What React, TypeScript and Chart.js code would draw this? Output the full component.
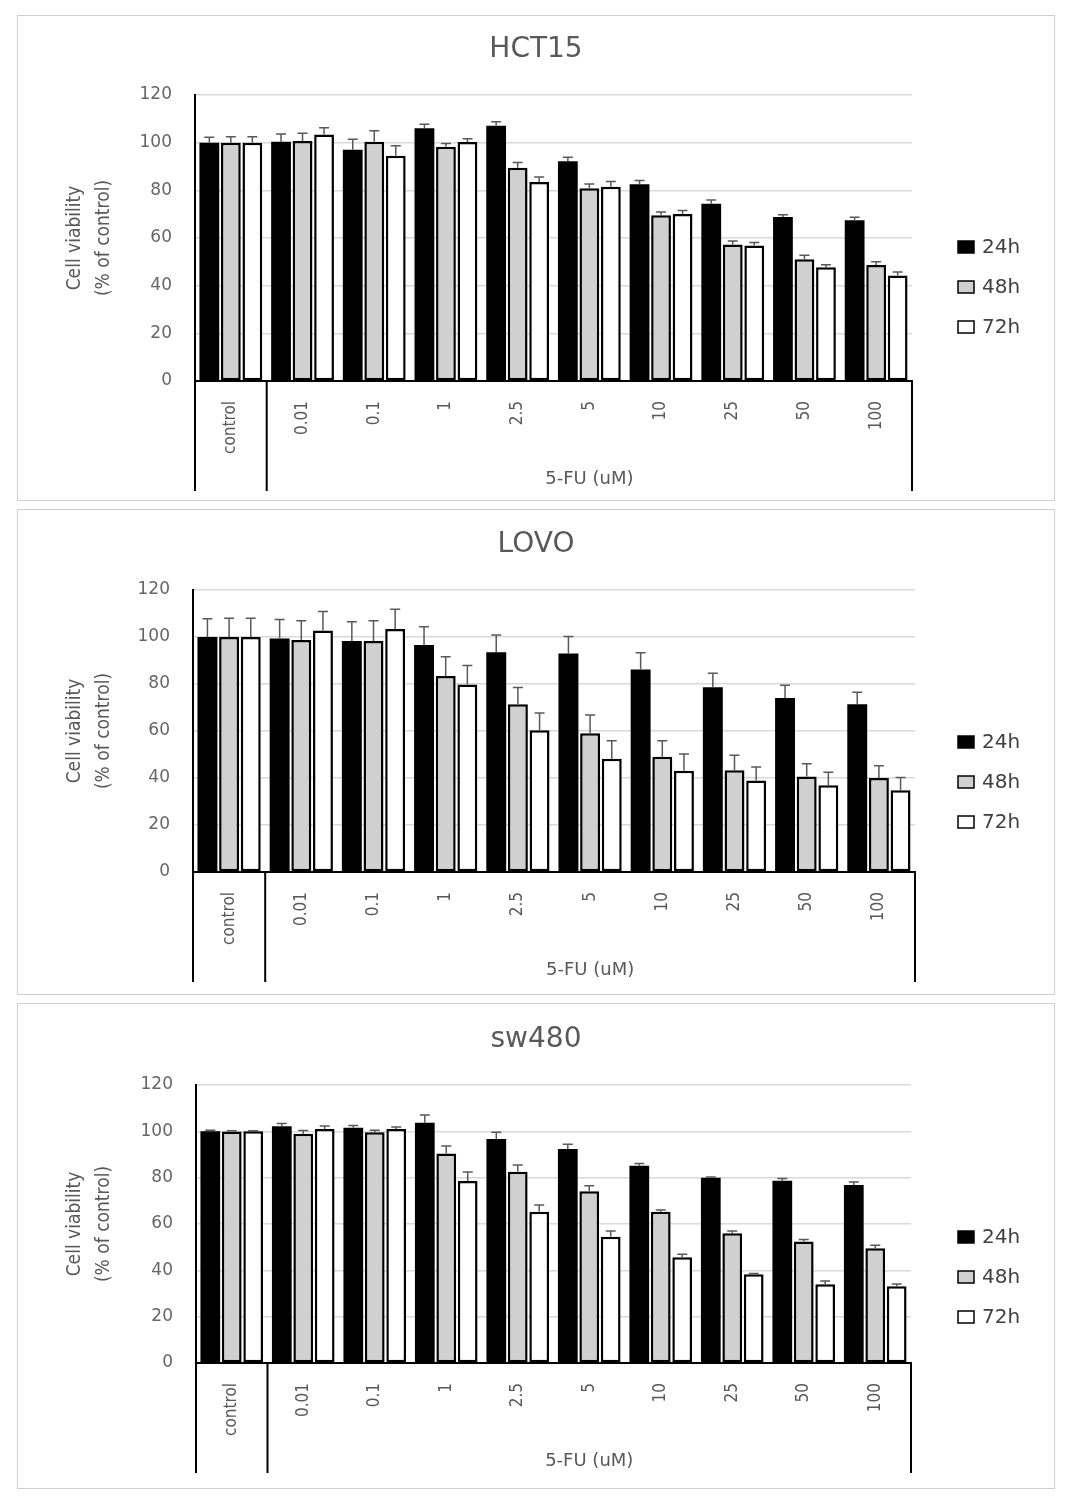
import React, { useEffect, useRef } from "react";
import { Chart, registerables } from "chart.js";

Chart.register(...registerables);

const categories = ["control", "0.01", "0.1", "1", "2.5", "5", "10", "25", "50", "100"];
const seriesLabels = ["24h", "48h", "72h"];

// HCT15
const hct15_24h = [100, 100.4, 97, 106, 107.1, 92.2, 82.6, 74.4, 68.8, 67.4];
const hct15_48h = [100, 100.7, 100.4, 98.3, 89.5, 80.9, 69.5, 57.3, 51.1, 48.7];
const hct15_72h = [100, 103.4, 94.5, 100.3, 83.5, 81.5, 70.1, 56.9, 47.7, 44.3];
const hct15_err24 = [2.3, 3.2, 4.4, 1.7, 1.7, 1.7, 1.5, 1.5, 1.0, 1.3];
const hct15_err48 = [2.5, 3.2, 4.6, 1.4, 2.2, 1.8, 1.4, 1.4, 1.7, 1.3];
const hct15_err72 = [2.5, 2.9, 4.2, 1.3, 2.1, 2.2, 1.4, 1.2, 1.1, 1.4];

// LOVO
const lovo_24h = [100, 99.4, 98.3, 96.6, 93.5, 93, 86.2, 78.6, 74.0, 71.4];
const lovo_48h = [100, 98.7, 98.3, 83.4, 71.4, 59, 49, 43.3, 40.6, 40];
const lovo_72h = [100, 102.8, 103.4, 79.8, 60.3, 48.2, 43.1, 38.9, 36.9, 34.8];
const lovo_err24 = [7.8, 8, 8.2, 7.8, 7.4, 7.2, 7.1, 6, 5.5, 5.1];
const lovo_err48 = [8, 8.2, 8.6, 8.2, 7.1, 7.8, 6.8, 6.4, 5.5, 5.2];
const lovo_err72 = [8, 8, 8.4, 8.1, 7.4, 7.7, 7.1, 5.8, 5.5, 5.4];

// sw480
const sw480_24h = [100, 102.2, 101.5, 103.7, 96.7, 92.4, 85.1, 80, 78.7, 76.8];
const sw480_48h = [99.9, 99, 99.6, 90.4, 82.6, 74.1, 65.3, 56, 52.4, 49.5];
const sw480_72h = [100, 101, 101, 78.6, 65.3, 54.5, 45.6, 38.3, 34, 33.1];
const sw480_err24 = [0.5, 1.2, 1, 3.3, 2.9, 2, 1, 0.3, 0.9, 1.3];
const sw480_err48 = [0.3, 1.4, 0.9, 3.3, 2.9, 2.4, 0.7, 1, 0.9, 1.3];
const sw480_err72 = [0.3, 1.3, 0.9, 3.9, 2.9, 2.5, 1.3, 0.3, 1.4, 1];

const yMin = 0;
const yMax = 120;
const yStep = 20;

const yTitleLines = ["Cell viability", "(% of control)"];
const groupTitle = "5-FU (uM)";

const fills = ["#000000", "#d0d0d0", "#ffffff"];

const CW = 1036;
const CH = 484;

type PanelProps = {
  title: string;
  values: number[][];
  errors: number[][];
  area: { left: number; right: number; top: number; bottom: number };
  top: number;
};

function Panel({ title, values, errors, area, top }: PanelProps) {
  const ref = useRef<HTMLCanvasElement | null>(null);

  useEffect(() => {
    if (!ref.current) return;
    const overlay = {
      id: "overlay",
      afterDatasetsDraw(chart: any) {
        const ctx = chart.ctx;
        const ys = chart.scales.y;
        ctx.save();
        ctx.strokeStyle = "#595959";
        ctx.lineWidth = 1.5;
        chart.data.datasets.forEach((ds: any, di: number) => {
          const meta = chart.getDatasetMeta(di);
          meta.data.forEach((el: any, i: number) => {
            const v = ds.data[i];
            const e = errors[di][i];
            const yTop = ys.getPixelForValue(v + e);
            const yBar = ys.getPixelForValue(v);
            ctx.beginPath();
            ctx.moveTo(el.x, yBar);
            ctx.lineTo(el.x, yTop);
            ctx.moveTo(el.x - 5, yTop);
            ctx.lineTo(el.x + 5, yTop);
            ctx.stroke();
          });
        });
        ctx.restore();
      },
      afterDraw(chart: any) {
        const ctx = chart.ctx;
        const xs = chart.scales.x;
        const ca = chart.chartArea;
        ctx.save();
        // Title
        ctx.fillStyle = "#595959";
        ctx.textAlign = "center";
        ctx.textBaseline = "middle";
        ctx.font = "28px 'DejaVu Sans'";
        ctx.fillText(title, CW / 2, ca.top - 45);

        // Y title
        const midY = (ca.top + ca.bottom) / 2;
        ctx.font = "19px 'DejaVu Sans Condensed', 'Liberation Sans Narrow', 'DejaVu Sans'";
        [57, 86].forEach((xx, i) => {
          ctx.save();
          ctx.translate(xx, midY);
          ctx.rotate(-Math.PI / 2);
          ctx.fillText(yTitleLines[i], 0, 0);
          ctx.restore();
        });

        // Brackets
        const b0 = ca.left;
        const b1 = (xs.getPixelForTick(0) + xs.getPixelForTick(1)) / 2;
        const b2 = ca.right;
        ctx.strokeStyle = "#000";
        ctx.lineWidth = 2;
        ctx.beginPath();
        [b0, b1, b2].forEach((bx) => {
          ctx.moveTo(bx, ca.bottom);
          ctx.lineTo(bx, ca.bottom + 110);
        });
        ctx.stroke();

        // Group label
        ctx.fillStyle = "#595959";
        ctx.font = "18px 'DejaVu Sans'";
        ctx.fillText(groupTitle, (b1 + b2) / 2, ca.bottom + 98);

        // Legend
        seriesLabels.forEach((lab, i) => {
          const ly = ca.top + 152 + 40 * i;
          ctx.fillStyle = fills[i];
          ctx.fillRect(940, ly - 6, 16, 12);
          ctx.strokeStyle = "#000";
          ctx.lineWidth = 1.5;
          ctx.strokeRect(940, ly - 6, 16, 12);
          ctx.fillStyle = "#404040";
          ctx.font = "20px 'DejaVu Sans'";
          ctx.textAlign = "left";
          ctx.fillText(lab, 964, ly + 1);
        });
        ctx.restore();
      },
    };

    const chart = new Chart(ref.current, {
      type: "bar",
      data: {
        labels: categories,
        datasets: values.map((vals, i) => ({
          label: seriesLabels[i],
          data: vals,
          backgroundColor: fills[i],
          borderColor: "#000",
          borderWidth: i === 0 ? 0 : 2.5,
          borderSkipped: false,
          categoryPercentage: 0.9,
          barPercentage: 0.92,
        })),
      },
      options: {
        animation: false,
        responsive: false,
        devicePixelRatio: 1,
        layout: {
          padding: { left: 0, top: area.top, right: CW - area.right, bottom: 0 },
        },
        plugins: {
          legend: { display: false },
          title: { display: false },
          tooltip: { enabled: false },
        },
        scales: {
          x: {
            grid: { display: false },
            border: { color: "#000", width: 2 },
            ticks: {
              autoSkip: false,
              maxRotation: 90,
              minRotation: 90,
              padding: 12,
              color: "#595959",
              font: { family: "'DejaVu Sans Condensed', 'Liberation Sans Narrow', 'DejaVu Sans'", size: 17 },
            },
            afterFit: (s: any) => {
              s.height = CH - area.bottom;
            },
          },
          y: {
            min: yMin,
            max: yMax,
            ticks: {
              stepSize: yStep,
              padding: 23,
              color: "#666",
              font: { family: "'DejaVu Sans'", size: 17 },
            },
            grid: { color: "#d9d9d9", lineWidth: 1.5, drawTicks: false },
            border: { color: "#000", width: 2 },
            afterFit: (s: any) => {
              s.width = area.left;
            },
          },
        },
      },
      plugins: [overlay],
    } as any);
    return () => chart.destroy();
  }, []);

  return (
    <div
      style={{
        position: "absolute",
        left: 9,
        top,
        width: CW,
        height: CH,
        border: "1px solid #cfcfcf",
        background: "#fff",
      }}
    >
      <canvas ref={ref} width={CW} height={CH} style={{ display: "block" }} />
    </div>
  );
}

export default function App() {
  return (
    <div style={{ position: "relative", width: 1050, height: 1490 }}>
      <Panel
        title="HCT15"
        values={[hct15_24h, hct15_48h, hct15_72h]}
        errors={[hct15_err24, hct15_err48, hct15_err72]}
        area={{ left: 177, right: 894, top: 79, bottom: 365 }}
        top={7}
      />
      <Panel
        title="LOVO"
        values={[lovo_24h, lovo_48h, lovo_72h]}
        errors={[lovo_err24, lovo_err48, lovo_err72]}
        area={{ left: 175, right: 897, top: 80, bottom: 362 }}
        top={501}
      />
      <Panel
        title="sw480"
        values={[sw480_24h, sw480_48h, sw480_72h]}
        errors={[sw480_err24, sw480_err48, sw480_err72]}
        area={{ left: 178, right: 893, top: 81, bottom: 359 }}
        top={995}
      />
    </div>
  );
}
